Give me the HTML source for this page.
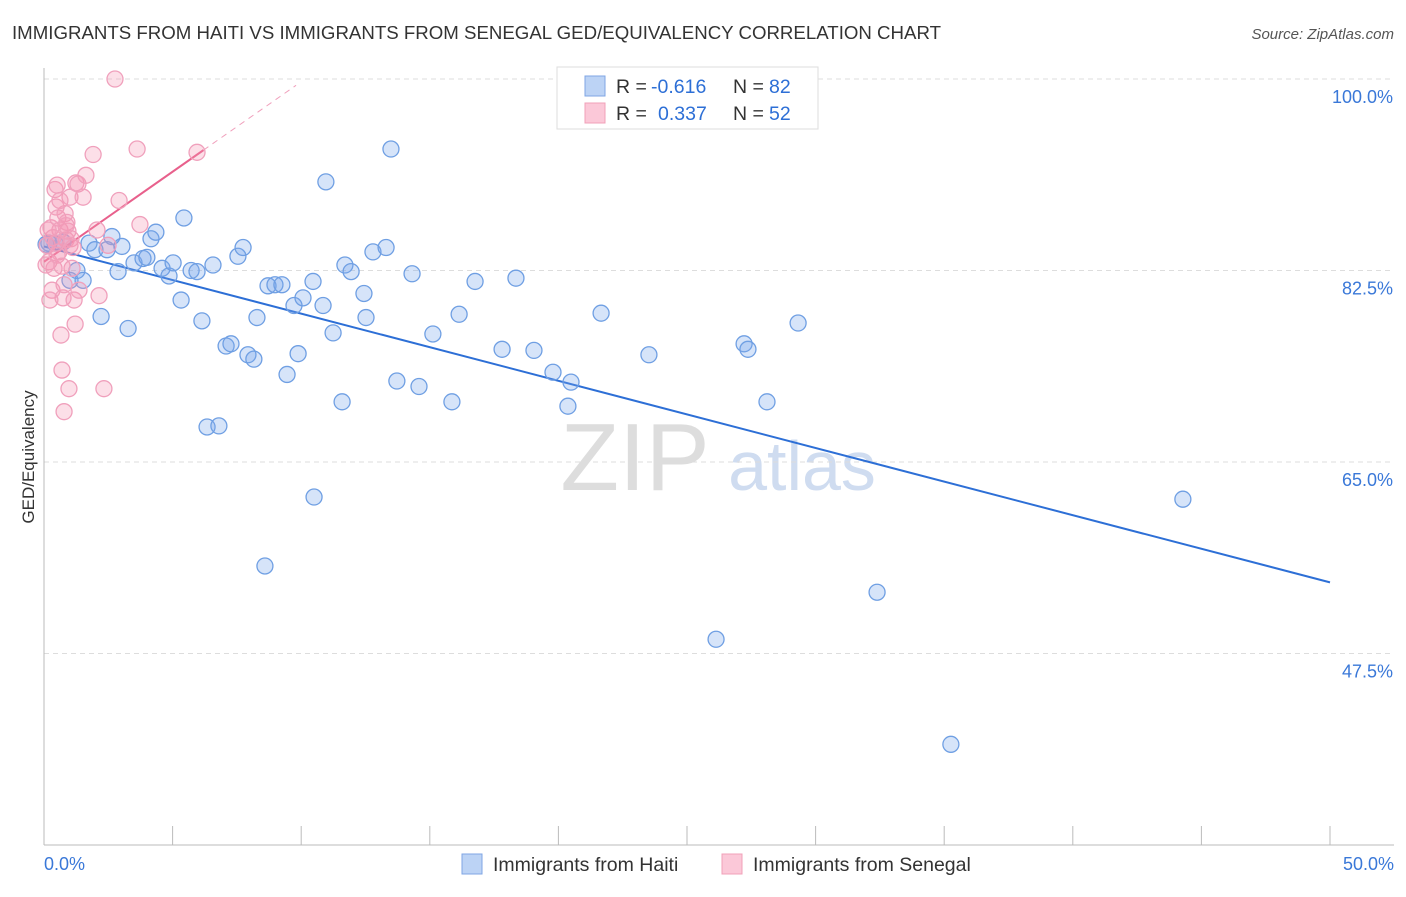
<!DOCTYPE html>
<html><head><meta charset="utf-8"><style>
body{margin:0;background:#fff;font-family:"Liberation Sans",sans-serif;}
svg text{font-family:"Liberation Sans",sans-serif;}
</style></head><body>
<svg id="chart" width="1406" height="892" xmlns="http://www.w3.org/2000/svg">
<text x="12" y="39" font-size="18.5" fill="#333" textLength="929" lengthAdjust="spacingAndGlyphs">IMMIGRANTS FROM HAITI VS IMMIGRANTS FROM SENEGAL GED/EQUIVALENCY CORRELATION CHART</text>
<text x="1394" y="39" font-size="15" fill="#555" text-anchor="end" font-style="italic">Source: ZipAtlas.com</text>
<text transform="translate(34,457) rotate(-90)" font-size="17" fill="#333" text-anchor="middle">GED/Equivalency</text>
<g>
<text x="635" y="490" font-size="96" fill="#ddd" font-family="Liberation Serif" text-anchor="middle">ZIP</text>
<text x="802" y="490" font-size="70" fill="#cfdcf0" text-anchor="middle">atlas</text>
</g>
<g id="grid"></g><g id="axes"></g><g id="trend"></g><g id="pts"></g>
<g>
<rect x="557" y="67" width="261" height="62" fill="#fff" stroke="#ddd"/>
<rect x="585" y="76" width="20" height="20" fill="#bcd3f5" stroke="#7fa6e4"/>
<rect x="585" y="103" width="20" height="20" fill="#fbc8d8" stroke="#f0a0b8"/>
<text x="616" y="93" font-size="19.5" fill="#333">R =</text>
<text x="651" y="93" font-size="19.5" fill="#2d6fd6">-0.616</text>
<text x="733" y="93" font-size="19.5" fill="#333">N =</text>
<text x="769" y="93" font-size="19.5" fill="#2d6fd6">82</text>
<text x="616" y="120" font-size="19.5" fill="#333">R =</text>
<text x="658" y="120" font-size="19.5" fill="#2d6fd6">0.337</text>
<text x="733" y="120" font-size="19.5" fill="#333">N =</text>
<text x="769" y="120" font-size="19.5" fill="#2d6fd6">52</text>
</g>
<g>
<rect x="462" y="854" width="20" height="20" fill="#bcd3f5" stroke="#7fa6e4"/>
<text x="493" y="871" font-size="19.5" fill="#333">Immigrants from Haiti</text>
<rect x="722" y="854" width="20" height="20" fill="#fbc8d8" stroke="#f0a0b8"/>
<text x="753" y="871" font-size="19.5" fill="#333">Immigrants from Senegal</text>
</g>
</svg>
<script>
const yTicks=[100,82.5,65,47.5];
const yTickLabels=["100.0%","82.5%","65.0%","47.5%"];
const xTicks=[0,5,10,15,20,25,30,35,40,45,50];
const haitiX=[0.19,0.43,0.74,1.01,1.28,1.52,1.75,1.98,2.22,2.45,2.64,2.88,3.03,3.27,3.50,3.85,4.00,4.16,4.35,4.59,4.86,5.02,5.33,5.44,5.72,5.95,6.14,6.34,6.57,6.80,7.08,7.27,7.54,7.74,7.93,8.16,8.28,8.59,8.71,8.98,9.25,9.45,9.72,9.88,10.07,10.46,10.50,10.85,10.96,11.24,11.59,11.70,11.94,12.44,12.52,12.79,13.30,13.49,13.72,14.31,14.58,15.12,15.86,16.14,16.76,17.81,18.35,19.05,19.79,20.37,20.49,21.66,23.52,26.13,27.22,27.37,28.11,29.32,32.39,35.26,44.28,0.08];
const haitiY=[85.0,85.0,85.1,81.6,82.5,81.6,85.0,84.4,78.3,84.4,85.6,82.4,84.7,77.2,83.2,83.6,83.7,85.4,86.0,82.7,82.0,83.2,79.8,87.3,82.5,82.4,77.9,68.2,83.0,68.3,75.6,75.8,83.8,84.6,74.8,74.4,78.2,55.5,81.1,81.2,81.2,73.0,79.3,74.9,80.0,81.5,61.8,79.3,90.6,76.8,70.5,83.0,82.4,80.4,78.2,84.2,84.6,93.6,72.4,82.2,71.9,76.7,70.5,78.5,81.5,75.3,81.8,75.2,73.2,70.1,72.3,78.6,74.8,48.8,75.8,75.3,70.5,77.7,53.1,39.2,61.6,84.9];
const senegalX=[0.12,0.19,0.27,0.31,0.39,0.43,0.47,0.51,0.54,0.58,0.62,0.66,0.70,0.74,0.78,0.82,0.86,0.89,0.93,0.97,1.01,1.05,1.09,1.17,1.21,1.24,1.32,1.36,1.52,1.63,1.91,2.06,2.14,2.33,2.49,2.76,2.92,3.62,3.73,5.95,0.08,0.23,0.35,0.51,0.70,0.16,0.62,0.86,1.01,0.47,1.13,0.78];
const senegalY=[84.8,83.3,86.4,80.7,82.7,89.9,88.3,90.3,87.3,84.2,86.2,76.6,73.4,80.0,69.6,87.7,85.3,86.9,86.1,71.7,89.2,85.4,82.7,79.8,77.6,90.5,90.4,80.7,89.2,91.2,93.1,86.2,80.2,71.7,84.8,100,88.9,93.6,86.7,93.3,83.0,79.8,85.5,83.9,82.9,86.2,88.9,86.6,84.8,85.0,84.6,81.2];
const haitiTrend=[84.7,54.0];
const senegalTrend=[83.3,93.5];
const senegalTrendEnd=[6.2,9.8];

const NS="http://www.w3.org/2000/svg";
const X=v=>44+v*25.72, Y=v=>79+(100-v)*10.943;
function mk(tag,attrs,parent){const e=document.createElementNS(NS,tag);for(const k in attrs)e.setAttribute(k,attrs[k]);document.getElementById(parent).appendChild(e);return e;}
yTicks.forEach((t,i)=>{
  const l=mk('line',{x1:44,x2:1394,y1:Y(t),y2:Y(t),stroke:'#ddd','stroke-dasharray':'5,4'},'grid');
  
  
  const tx=mk('text',{x:1393,y:Y(t)+24,'font-size':18,fill:'#3a78d8','text-anchor':'end'},'grid');
  tx.textContent=yTickLabels[i];
  
  
});
const ax=mk('line',{x1:44,x2:1394,y1:845,y2:845,stroke:'#bbb'},'axes');


const ay=mk('line',{x1:44,x2:44,y1:68,y2:845,stroke:'#bbb'},'axes');


xTicks.forEach(t=>{
  const l=mk('line',{x1:X(t),x2:X(t),y1:826,y2:845,stroke:'#bbb'},'axes');
  
  
});
[[0,"0.0%","start",44],[50,"50.0%","end",1394]].forEach(d=>{
  const t=mk('text',{x:d[3],y:870,'font-size':18,fill:'#3a78d8','text-anchor':d[2]},'axes');
  t.textContent=d[1];
  
  
});
haitiX.forEach((x,i)=>{
  const c=mk('circle',{cx:X(x),cy:Y(haitiY[i]),r:8,fill:'rgba(120,165,235,0.3)',stroke:'#6f9fe3','stroke-width':1.3},'pts');
  
  
});
senegalX.forEach((x,i)=>{
  const c=mk('circle',{cx:X(x),cy:Y(senegalY[i]),r:8,fill:'rgba(245,150,180,0.3)',stroke:'#f0a0bc','stroke-width':1.3},'pts');
  
  
});
const bt=mk('line',{x1:X(0),y1:Y(haitiTrend[0]),x2:X(50),y2:Y(haitiTrend[1]),stroke:'#2d6fd6','stroke-width':2},'trend');


const slope=(senegalTrend[1]-senegalTrend[0])/senegalTrendEnd[0];
const pt=mk('line',{x1:X(0),y1:Y(senegalTrend[0]),x2:X(senegalTrendEnd[0]),y2:Y(senegalTrend[1]),stroke:'#e8608c','stroke-width':2},'trend');


const pd=mk('line',{x1:X(senegalTrendEnd[0]),y1:Y(senegalTrend[1]),x2:X(senegalTrendEnd[1]),y2:Y(senegalTrend[0]+slope*senegalTrendEnd[1]),stroke:'#f0a0bc','stroke-width':1,'stroke-dasharray':'6,5'},'trend');


</script>
</body></html>
